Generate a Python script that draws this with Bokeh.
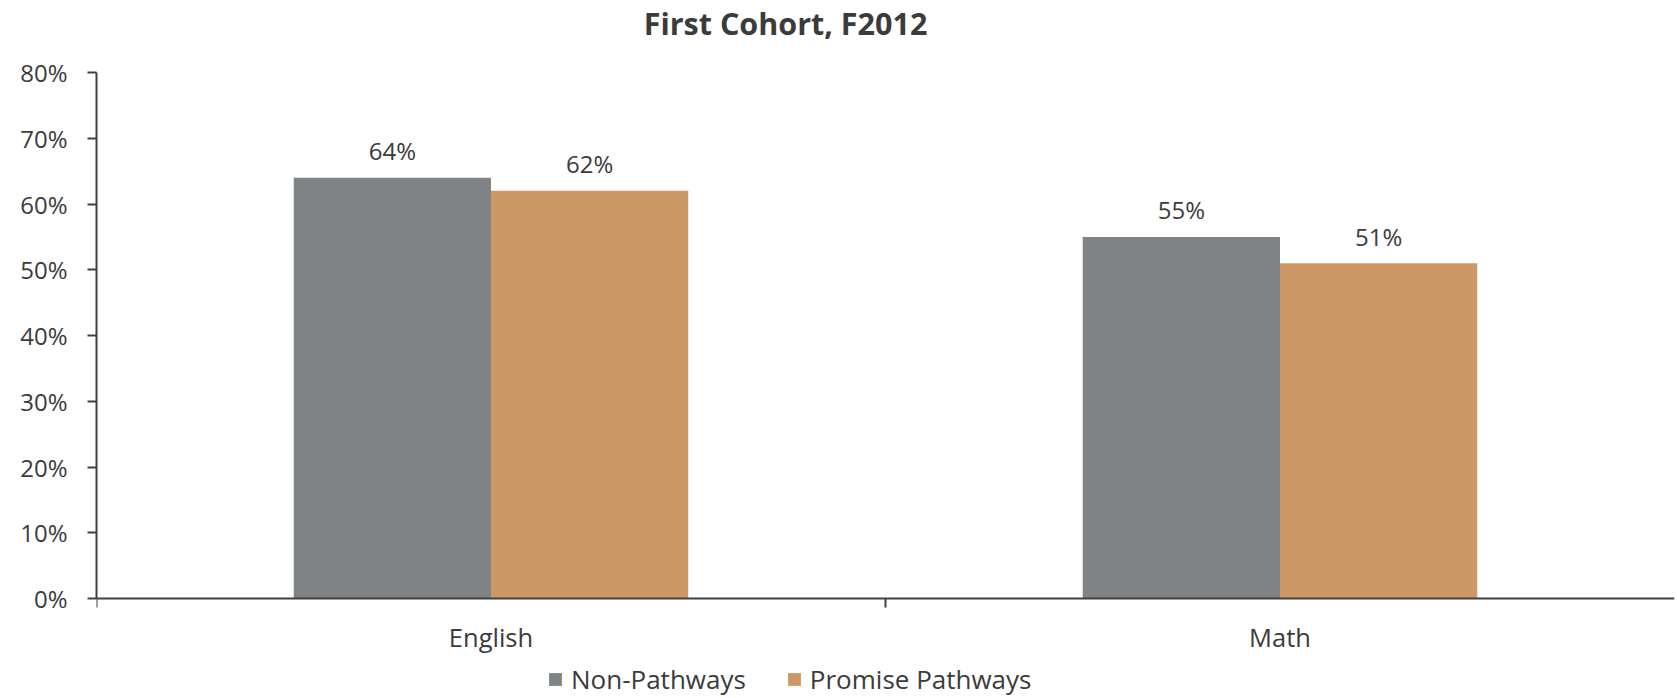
from bokeh.plotting import figure
from bokeh.models import (Range1d, FixedTicker, NumeralTickFormatter, Legend, LegendItem,
                          ColumnDataSource, LinearAxis, Span, Label)
from bokeh.embed import file_html
from bokeh.resources import INLINE
from bokeh.core.properties import value

# ---- data ----
title_text = "First Cohort, F2012"
categories = ["English", "Math"]
series_names = ["Non-Pathways", "Promise Pathways"]
non_pathways = [0.64, 0.55]
promise_pathways = [0.62, 0.51]
y_ticks = [0.0, 0.1, 0.2, 0.3, 0.4, 0.5, 0.6, 0.7, 0.8]

colors = ["#7F8385", "#CC9866"]
FONT = "Open Sans"
TXT = "#3b3b3b"
AX = "#404040"

# ---- layout (pixels) ----
W, H = 1677, 698
LEFT, RIGHT = 96, 3
Y_TOP_PX, Y_ZERO_PX = 72, 598          # pixel rows of 80% and 0%
y_max = max(y_ticks)
px_per_unit = (Y_ZERO_PX - Y_TOP_PX) / y_max
y_hi = y_max + Y_TOP_PX / px_per_unit
y_lo = -(H - Y_ZERO_PX) / px_per_unit

p = figure(width=W, height=H, output_backend="svg", toolbar_location=None,
           x_range=Range1d(0, len(categories)), y_range=Range1d(y_lo, y_hi),
           x_axis_type=None, y_axis_type=None,
           min_border_left=LEFT, min_border_right=RIGHT, min_border_top=0, min_border_bottom=0)
p.title.visible = False
p.outline_line_color = None
p.grid.visible = False
p.background_fill_color = "white"
p.border_fill_color = "white"

# title
p.add_layout(Label(x=(W - LEFT - RIGHT) / 2 - 100, y=H - 22, x_units="screen", y_units="screen",
                   text=title_text, text_font=FONT, text_font_style="bold",
                   text_font_size="30.5px", text_color=TXT, text_align="center",
                   text_baseline="alphabetic"))

# bars
bar_w = 0.25
series = [non_pathways, promise_pathways]
offsets = [-bar_w / 2, bar_w / 2]
renderers = []
for vals, off, col in zip(series, offsets, colors):
    xs = [i + 0.5 + off for i in range(len(categories))]
    src = ColumnDataSource(dict(x=xs, top=vals, lbl=["%d%%" % round(v * 100) for v in vals]))
    r = p.vbar(x="x", top="top", bottom=0, width=bar_w, source=src,
               fill_color=col, line_color=None)
    renderers.append(r)
    p.text(x="x", y="top", text="lbl", source=src, text_align="center",
           text_baseline="alphabetic", y_offset=-27, text_font=value(FONT),
           text_font_size="24px", text_color=TXT)

# y axis (bounded to 0..80%)
yax = LinearAxis(ticker=FixedTicker(ticks=y_ticks, minor_ticks=[]),
                 formatter=NumeralTickFormatter(format="0%"), bounds=(0, y_max))
yax.axis_line_color = AX
yax.axis_line_width = 2
yax.major_tick_line_color = AX
yax.major_tick_line_width = 2
yax.major_tick_out = 9
yax.major_tick_in = 0
yax.minor_tick_out = 0
yax.major_label_standoff = 20
yax.major_label_text_font = FONT
yax.major_label_text_font_size = "24px"
yax.major_label_text_color = TXT
p.add_layout(yax, "left")

# x axis: baseline, boundary ticks and category labels
p.add_layout(Span(location=0, dimension="width", line_color=AX, line_width=2))
tick_len = 9 / px_per_unit
bounds_x = [float(i) for i in range(len(categories))]
p.segment(x0=bounds_x, y0=[0] * len(bounds_x), x1=bounds_x, y1=[-tick_len] * len(bounds_x),
          line_color=AX, line_width=2)
cat_src = ColumnDataSource(dict(x=[i + 0.5 for i in range(len(categories))],
                                y=[0] * len(categories), t=categories))
p.text(x="x", y="y", text="t", source=cat_src, text_align="center", text_baseline="alphabetic",
       y_offset=38, text_font=value(FONT), text_font_size="25.5px", text_color=TXT)

# legend
legend = Legend(items=[LegendItem(label=n, renderers=[r]) for n, r in zip(series_names, renderers)],
                orientation="horizontal", location=(451, 1))
legend.label_text_font = FONT
legend.label_text_font_size = "26px"
legend.label_text_color = TXT
legend.glyph_width = 16
legend.glyph_height = 16
legend.label_standoff = 8
legend.spacing = 40
legend.padding = 0
legend.margin = 0
legend.border_line_color = None
legend.background_fill_alpha = 0
p.add_layout(legend, "center")

open("out.html", "w").write(file_html(p, INLINE))
